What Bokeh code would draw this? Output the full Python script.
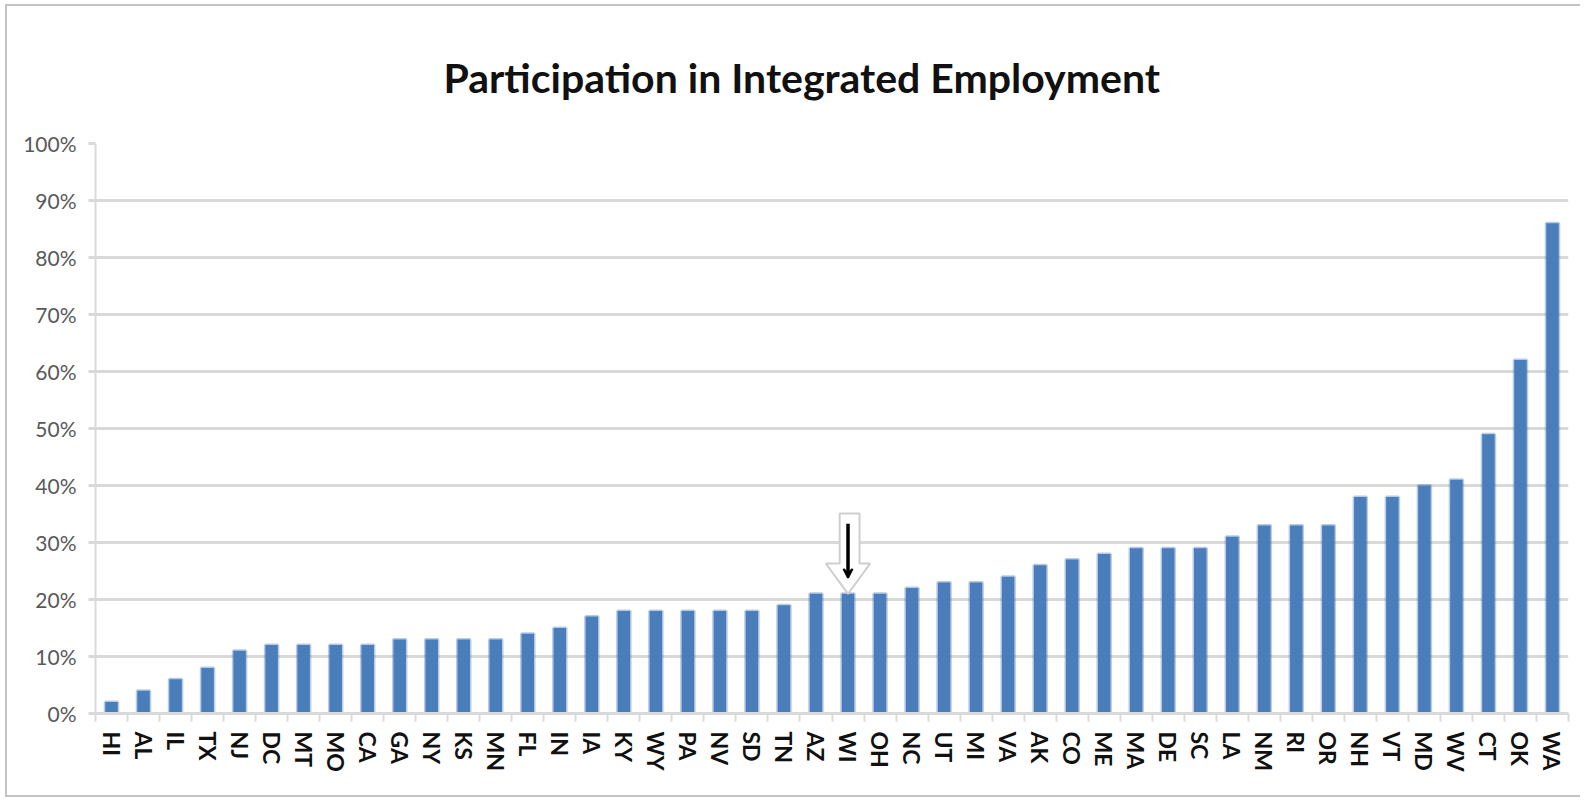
from bokeh.plotting import figure
from bokeh.models import (Range1d, FixedTicker, NumeralTickFormatter, Title, Arrow,
                          VeeHead, ColumnDataSource)
from bokeh.embed import file_html
from bokeh.resources import INLINE

# ---- data ----
states = ["HI", "AL", "IL", "TX", "NJ", "DC", "MT", "MO", "CA", "GA", "NY", "KS",
          "MN", "FL", "IN", "IA", "KY", "WY", "PA", "NV", "SD", "TN", "AZ", "WI",
          "OH", "NC", "UT", "MI", "VA", "AK", "CO", "ME", "MA", "DE", "SC", "LA",
          "NM", "RI", "OR", "NH", "VT", "MD", "WV", "CT", "OK", "WA"]
values_pct = [2, 4, 6, 8, 11, 12, 12, 12, 12, 13, 13, 13,
              13, 14, 15, 17, 18, 18, 18, 18, 18, 19, 21, 21,
              21, 22, 23, 23, 24, 26, 27, 28, 29, 29, 29, 31,
              33, 33, 33, 38, 38, 40, 41, 49, 62, 86]
y_ticks = [0.0, 0.1, 0.2, 0.3, 0.4, 0.5, 0.6, 0.7, 0.8, 0.9, 1.0]
title_text = "Participation in Integrated Employment"
highlight = "WI"

n = len(states)
xc = [i + 0.5 for i in range(n)]
vals = [v / 100.0 for v in values_pct]

FONT = "Lato"

p = figure(width=1575, height=793, output_backend="svg", toolbar_location=None,
           x_range=Range1d(0, n), y_range=Range1d(0, 1),
           min_border_left=88, min_border_right=14, min_border_top=137,
           min_border_bottom=86,
           styles={"margin-left": "5px", "margin-top": "4px",
                   "border-left": "2px solid #c3c3c3", "border-top": "2px solid #c3c3c3",
                   "border-bottom": "2px solid #c3c3c3"})
p.outline_line_color = None
p.background_fill_color = "white"
p.border_fill_color = "white"

t = Title(text=title_text, align="left", text_font=FONT, text_font_size="41px",
          text_font_style="bold", text_color="#111111", standoff=83, offset=348)
p.title = t

# grid
p.xgrid.grid_line_color = None
p.ygrid.ticker = FixedTicker(ticks=y_ticks)
p.ygrid.grid_line_color = "#d9d9d9"
p.ygrid.grid_line_width = 3

# y axis
p.yaxis.ticker = FixedTicker(ticks=y_ticks)
p.yaxis.formatter = NumeralTickFormatter(format="0%")
p.yaxis.axis_line_color = "#d9d9d9"
p.yaxis.axis_line_width = 2
p.yaxis.major_tick_line_color = "#d9d9d9"
p.yaxis.major_tick_line_width = 3
p.yaxis.major_tick_out = 7
p.yaxis.major_tick_in = 0
p.yaxis.minor_tick_line_color = None
p.yaxis.major_label_text_font = FONT
p.yaxis.major_label_text_font_size = "21px"
p.yaxis.major_label_text_color = "#595959"
p.yaxis.major_label_standoff = 12

# x axis: labels at centres, small ticks between categories
p.xaxis.ticker = FixedTicker(ticks=xc, minor_ticks=list(range(n + 1)))
p.xaxis.major_label_overrides = {x: s for x, s in zip(xc, states)}
p.xaxis.major_label_orientation = "vertical"
p.xaxis.major_label_text_font = FONT
p.xaxis.major_label_text_font_size = "23px"
p.xaxis.major_label_text_font_style = "bold"
p.xaxis.major_label_text_color = "#111111"
p.xaxis.major_label_standoff = 10
p.xaxis.major_tick_line_color = None
p.xaxis.major_tick_out = 0
p.xaxis.major_tick_in = 0
p.xaxis.minor_tick_line_color = "#d9d9d9"
p.xaxis.minor_tick_line_width = 2
p.xaxis.minor_tick_out = 8
p.xaxis.minor_tick_in = 0
p.xaxis.axis_line_color = "#d9d9d9"
p.xaxis.axis_line_width = 3

src = ColumnDataSource(dict(x=xc, top=vals, state=states))
p.vbar(x="x", top="top", width=0.39, source=src, fill_color="#4a7ebb",
       line_color="#4a7ebb", line_alpha=0.4, line_width=3)

# highlight arrow over the chosen state
i = states.index(highlight)
cx = xc[i]
v = vals[i]
hx = 0.69   # head half width (categories)
sx = 0.26   # shaft half width
head_h = 0.053
shaft_top = 0.141
arrow_xs = [cx, cx - hx, cx - sx, cx - sx, cx + sx + 0.1, cx + sx + 0.1, cx + hx]
arrow_ys = [v, v + head_h, v + head_h, v + shaft_top, v + shaft_top, v + head_h, v + head_h]
p.patch(arrow_xs, arrow_ys, fill_color="white", line_color="#cfcfcf", line_width=2)
p.add_layout(Arrow(x_start=cx, y_start=v + 0.123, x_end=cx, y_end=v + 0.028,
                   line_color="black", line_width=3.5,
                   end=VeeHead(size=9, fill_color="black", line_color="black", line_width=2)))

open("out.html", "w").write(file_html(p, INLINE))
